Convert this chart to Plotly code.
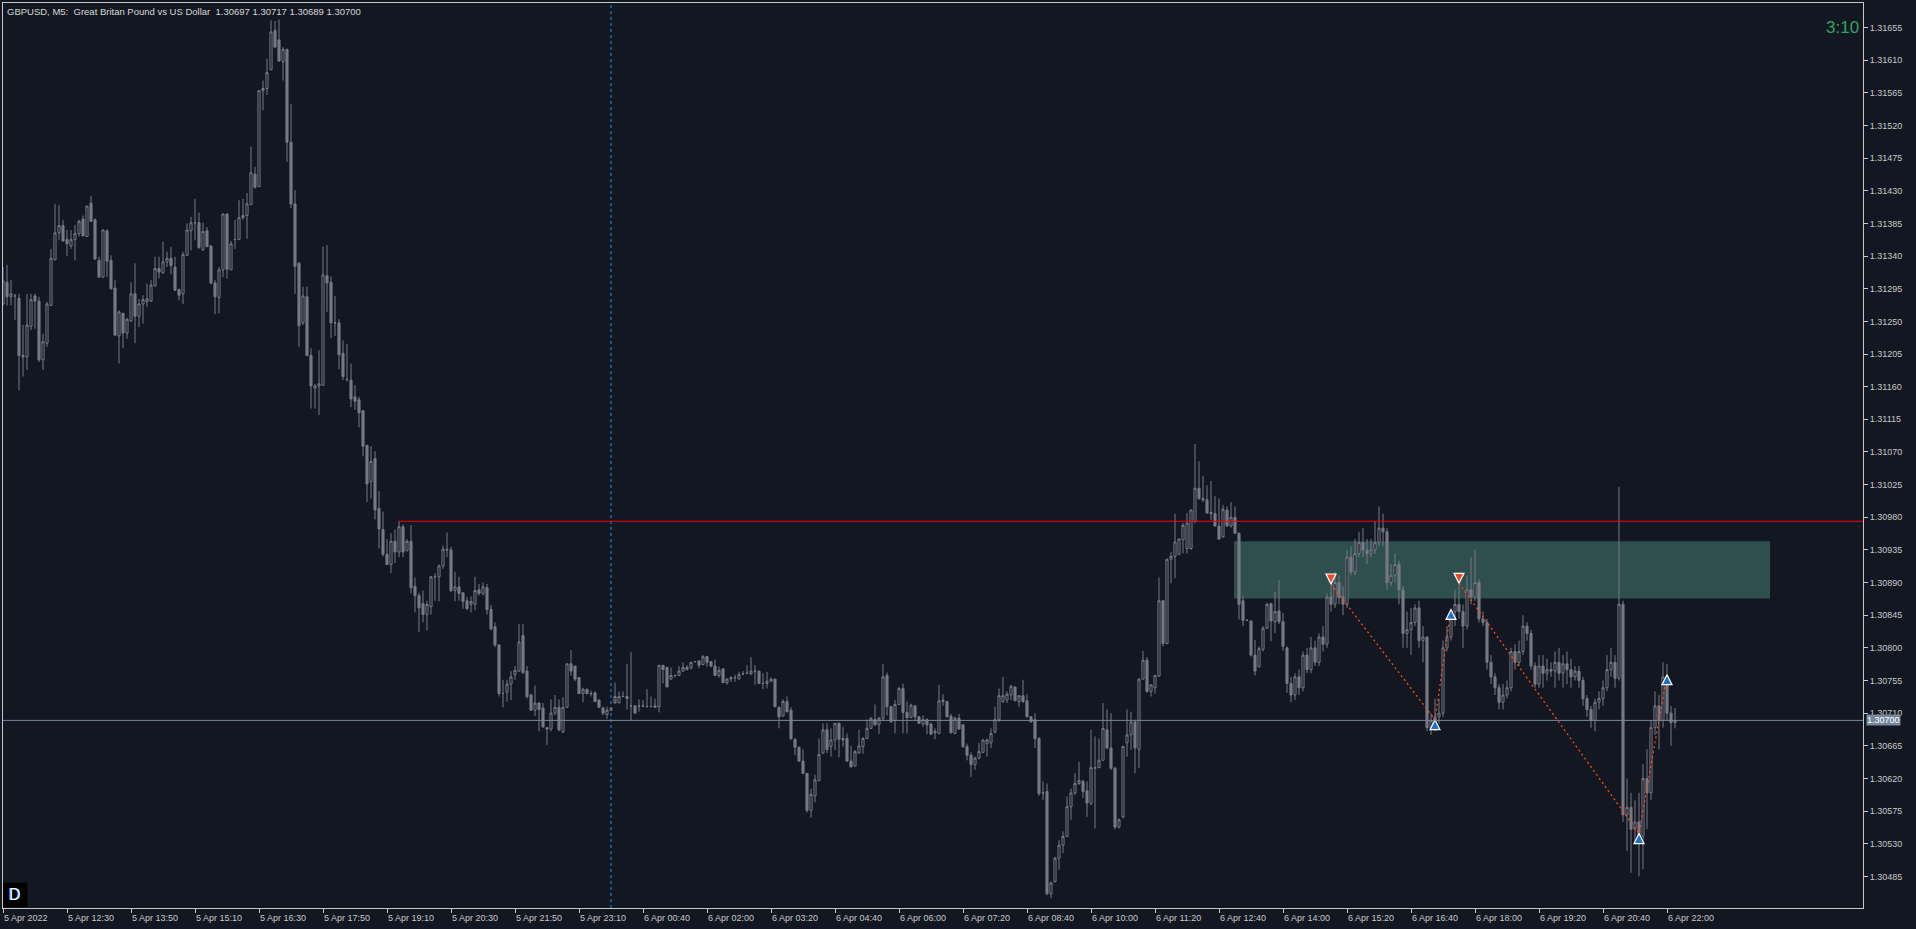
import plotly.graph_objects as go

# ---------------- data (prices in points, 1 point = 0.00001) ----------------
open_pts = [
131274,131304,131284,131285,131282,131203,131201,131243,131285,131278,
131197,131220,131272,131335,131372,131382,131363,131354,131363,131371,
131391,131367,131413,131390,131334,131311,131375,131334,131296,131230,
131261,131234,131251,131288,131257,131274,131277,131278,131299,131323,
131317,131332,131337,131325,131294,131288,131341,131375,131386,131386,
131349,131375,131354,131303,131283,131321,131398,131321,131363,131363,
131396,131396,131411,131453,131436,131568,131571,131597,131651,131638,
131608,131625,131497,131412,131330,131248,131284,131203,131158,131161,
131162,131313,131304,131248,131248,131206,131170,131169,131146,131142,
131127,131079,131029,131061,130992,130963,130929,130915,130947,130932,
130967,130934,130947,130885,130872,130861,130846,130857,130898,130898,
130913,130936,130935,130879,130884,130876,130865,130860,130860,130880,
130875,130883,130853,130829,130804,130737,130739,130750,130763,130768,
130817,130768,130735,130714,130724,130717,130690,130688,130710,130718,
130684,130718,130778,130775,130759,130737,130743,130737,130738,130728,
130717,130708,130714,130724,130724,130733,130733,130720,130720,130720,
130720,130719,130719,130720,130719,130776,130773,130757,130762,130762,
130768,130770,130772,130781,130782,130777,130788,130781,130775,130762,
130771,130752,130757,130759,130757,130764,130765,130764,130768,130768,
130751,130751,130754,130757,130718,130706,130726,130714,130674,130663,
130644,130627,130576,130596,130617,130655,130687,130664,130673,130696,
130675,130675,130644,130637,130655,130664,130675,130689,130701,130694,
130703,130762,130719,130700,130722,130744,130711,130704,130720,130705,
130695,130701,130695,130683,130682,130728,130726,130706,130682,130703,
130694,130664,130652,130639,130648,130656,130668,130669,130684,130701,
130726,130728,130735,130746,130726,130734,130727,130705,130701,130675,
130600,130602,130461,130478,130510,130528,130540,130581,130600,130613,
130616,130603,130586,130634,130635,130645,130687,130662,130634,130553,
130567,130669,130680,130698,130660,130757,130783,130740,130745,130761,
130865,130806,130922,130926,130929,130949,130937,130937,130974,131020,
131006,131004,130987,130985,130968,130953,130990,130968,130980,130958,
130865,130838,130837,130790,130774,130798,130827,130861,130836,130851,
130836,130800,130751,130735,130760,130745,130790,130770,130800,130780,
130815,130805,130870,130860,130890,130870,130860,130925,130905,130930,
130945,130935,130930,130935,130945,130965,130960,130890,130900,130915,
130880,130820,130825,130835,130855,130810,130815,130690,130700,130705,
130710,130800,130815,130850,130860,130850,130830,130880,130870,130890,
130840,130835,130780,130760,130745,130725,130735,130745,130795,130780,
130795,130830,130820,130775,130750,130775,130765,130770,130768,130780,
130765,130778,130770,130760,130768,130755,130730,130715,130700,130725,
130730,130745,130770,130780,130758,130860,130570,130580,130550,130560,
130540,130620,130600,130690,130720,130700,130760,130710,130697]
high_pts = [
131325,131328,131307,131288,131288,131245,131288,131288,131288,131284,
131233,131277,131350,131412,131410,131390,131376,131376,131383,131390,
131396,131409,131423,131392,131339,131377,131377,131341,131307,131265,
131262,131255,131304,131330,131281,131286,131302,131307,131339,131339,
131360,131346,131353,131339,131295,131346,131385,131394,131419,131400,
131386,131380,131355,131307,131325,131399,131399,131361,131390,131417,
131419,131427,131491,131463,131569,131582,131612,131665,131664,131666,
131628,131626,131550,131431,131332,131298,131298,131213,131164,131210,
131353,131355,131312,131285,131253,131224,131219,131192,131162,131146,
131127,131080,131078,131071,131016,130988,130950,130958,130963,130975,
130970,130950,130969,130897,130876,130879,130865,130899,130903,130915,
130941,130959,130939,130905,130898,130876,130870,130871,130898,130888,
130890,130888,130859,130835,130805,130756,130756,130768,130775,130833,
130833,130775,130737,130748,130725,130724,130691,130729,130735,130729,
130732,130778,130797,130775,130759,130745,130743,130741,130740,130729,
130719,130719,130718,130752,130740,130740,130778,130794,130721,130729,
130728,130743,130733,130730,130776,130776,130774,130773,130763,130775,
130780,130776,130781,130782,130782,130790,130789,130782,130784,130774,
130772,130758,130761,130763,130767,130768,130776,130787,130776,130768,
130765,130767,130759,130757,130719,130729,130733,130718,130675,130664,
130660,130627,130606,130625,130675,130696,130696,130689,130696,130697,
130691,130682,130665,130659,130687,130677,130701,130704,130722,130705,
130778,130766,130720,130728,130746,130751,130726,130723,130721,130706,
130707,130703,130697,130689,130749,130736,130727,130709,130705,130709,
130694,130668,130656,130650,130669,130674,130675,130689,130719,130744,
130760,130740,130749,130747,130735,130756,130736,130706,130710,130677,
130616,130613,130478,130512,130535,130547,130595,130606,130627,130643,
130618,130616,130687,130678,130675,130724,130715,130710,130636,130565,
130665,130715,130712,130701,130758,130796,130787,130750,130762,130897,
130866,130923,130932,130985,130951,130972,130986,130991,131081,131057,
131037,131024,131030,131009,131006,130997,130995,131001,130995,130959,
130871,130839,130838,130811,130802,130830,130862,130862,130877,130893,
130848,130802,130760,130765,130770,130795,130800,130815,130810,130820,
130830,130875,130888,130905,130900,130885,130935,130940,130950,130960,
130965,130950,130950,130975,130995,130985,130965,130915,130930,130920,
130885,130850,130855,130860,130865,130830,130815,130710,130730,130730,
130810,130830,130855,130880,130888,130860,130900,130925,130935,130895,
130850,130840,130790,130765,130750,130750,130755,130800,130805,130810,
130845,130835,130825,130780,130790,130790,130785,130780,130795,130800,
130790,130795,130785,130775,130775,130760,130735,130720,130730,130740,
130755,130790,130800,130790,131022,130865,130620,130600,130590,130600,
130640,130660,130700,130740,130735,130780,130778,130720,130717]
low_pts = [
131272,131272,131272,131252,131155,131174,131183,131238,131240,131194,
131183,131215,131271,131334,131362,131360,131340,131350,131334,131367,
131367,131367,131387,131335,131310,131310,131311,131294,131231,131192,
131213,131226,131249,131220,131242,131247,131270,131277,131298,131309,
131316,131325,131315,131292,131279,131274,131341,131348,131362,131350,
131347,131353,131301,131260,131261,131311,131309,131321,131350,131362,
131390,131364,131411,131433,131435,131541,131562,131596,131628,131608,
131582,131470,131406,131288,131215,131245,131202,131130,131130,131121,
131161,131263,131227,131230,131184,131169,131167,131132,131128,131104,
131064,131001,131006,130977,130937,130926,130914,130903,130917,130925,
130925,130933,130875,130849,130822,130835,130824,130846,130865,130864,
130909,130925,130877,130864,130865,130854,130852,130849,130852,130872,
130872,130846,130824,130801,130733,130718,130726,130728,130756,130767,
130764,130730,130713,130706,130685,130690,130666,130685,130707,130685,
130683,130717,130762,130754,130736,130725,130736,130733,130726,130717,
130707,130702,130713,130729,130724,130732,130715,130699,130710,130712,
130718,130718,130718,130718,130711,130751,130746,130756,130759,130761,
130767,130769,130771,130780,130772,130776,130774,130773,130761,130759,
130752,130749,130753,130753,130757,130763,130764,130763,130749,130750,
130743,130744,130753,130718,130689,130705,130711,130673,130652,130643,
130626,130573,130566,130587,130616,130654,130655,130650,130659,130649,
130664,130643,130635,130637,130654,130654,130674,130688,130692,130681,
130700,130707,130697,130682,130721,130682,130682,130703,130700,130695,
130691,130681,130680,130674,130681,130720,130704,130682,130681,130687,
130662,130645,130622,130632,130646,130655,130650,130662,130682,130698,
130724,130724,130728,130727,130719,130724,130704,130697,130662,130596,
130590,130459,130455,130476,130494,130517,130540,130563,130597,130611,
130593,130567,130583,130551,130634,130645,130660,130632,130550,130551,
130565,130650,130659,130627,130634,130756,130738,130733,130737,130760,
130802,130805,130889,130896,130928,130930,130930,130935,130972,131004,
131001,130985,130976,130967,130949,130952,130967,130966,130957,130839,
130830,130837,130788,130762,130773,130795,130826,130809,130820,130833,
130796,130738,130725,130728,130735,130740,130765,130765,130775,130775,
130795,130800,130850,130855,130860,130845,130855,130900,130900,130925,
130925,130915,130925,130930,130940,130940,130880,130885,130890,130860,
130800,130800,130790,130830,130800,130780,130685,130680,130685,130695,
130705,130795,130810,130830,130840,130800,130825,130860,130865,130835,
130830,130770,130750,130735,130715,130715,130730,130740,130770,130775,
130790,130810,130770,130745,130745,130745,130755,130760,130745,130755,
130745,130750,130745,130755,130745,130720,130705,130690,130685,130715,
130720,130740,130760,130745,130755,130560,130520,130490,130530,130485,
130495,130550,130590,130680,130660,130690,130700,130665,130689]
close_pts = [
131306,131284,131288,131285,131203,131201,131245,131280,131278,131197,
131222,131274,131337,131372,131382,131361,131357,131363,131371,131388,
131368,131409,131388,131336,131311,131376,131333,131295,131231,131263,
131234,131253,131288,131257,131274,131280,131281,131300,131323,131318,
131332,131337,131327,131293,131286,131342,131376,131386,131386,131352,
131374,131353,131303,131284,131321,131398,131322,131357,131363,131393,
131393,131412,131455,131435,131568,131571,131593,131649,131628,131609,
131625,131497,131412,131326,131244,131285,131203,131161,131161,131164,
131314,131303,131248,131248,131204,131174,131170,131143,131140,131124,
131078,131026,131057,130990,130964,130929,130915,130947,130932,130967,
130932,130947,130883,130872,130855,130846,130860,130898,130898,130913,
130936,130935,130879,130884,130875,130864,130854,130864,130879,130875,
130884,130853,130826,130804,130737,130737,130750,130760,130769,130808,
130766,130733,130714,130724,130715,130691,130688,130710,130718,130687,
130718,130778,130768,130757,130737,130743,130737,130737,130726,130718,
130710,130714,130717,130733,130733,130733,130730,130720,130710,130720,
130720,130719,130719,130718,130776,130770,130746,130762,130762,130768,
130773,130773,130780,130781,130776,130788,130780,130775,130762,130769,
130752,130757,130759,130759,130763,130764,130765,130768,130768,130751,
130751,130754,130757,130719,130705,130726,130712,130675,130663,130644,
130627,130576,130598,130618,130653,130687,130660,130673,130696,130674,
130673,130644,130636,130657,130665,130675,130689,130703,130694,130703,
130760,130719,130698,130722,130744,130711,130704,130721,130705,130696,
130701,130694,130681,130685,130727,130726,130705,130683,130703,130688,
130664,130652,130639,130648,130657,130673,130673,130682,130701,130734,
130734,130736,130747,130727,130734,130726,130705,130698,130675,130599,
130600,130461,130476,130510,130528,130540,130581,130600,130613,130617,
130602,130586,130635,130635,130645,130689,130662,130634,130553,130563,
130664,130680,130698,130662,130757,130783,130740,130749,130762,130865,
130806,130922,130926,130946,130950,130969,130972,130990,131020,131006,
131004,130986,130985,130968,130950,130991,130968,130980,130958,130860,
130838,130838,130790,130768,130799,130827,130860,130837,130850,130836,
130802,130751,130735,130760,130745,130790,130770,130800,130780,130815,
130805,130870,130860,130890,130870,130860,130925,130905,130930,130945,
130935,130930,130935,130945,130965,130960,130890,130900,130915,130880,
130820,130825,130835,130855,130810,130815,130690,130700,130705,130710,
130800,130815,130850,130860,130850,130830,130880,130870,130890,130840,
130835,130780,130760,130745,130725,130735,130745,130795,130780,130795,
130830,130820,130775,130750,130775,130765,130770,130768,130780,130765,
130778,130770,130760,130768,130755,130730,130715,130700,130725,130730,
130745,130770,130780,130758,130860,130570,130580,130550,130560,130540,
130620,130600,130690,130720,130700,130760,130710,130697,130700]

time_labels = ["5 Apr 2022", "5 Apr 12:30", "5 Apr 13:50", "5 Apr 15:10", "5 Apr 16:30",
               "5 Apr 17:50", "5 Apr 19:10", "5 Apr 20:30", "5 Apr 21:50", "5 Apr 23:10",
               "6 Apr 00:40", "6 Apr 02:00", "6 Apr 03:20", "6 Apr 04:40", "6 Apr 06:00",
               "6 Apr 07:20", "6 Apr 08:40", "6 Apr 10:00", "6 Apr 11:20", "6 Apr 12:40",
               "6 Apr 14:00", "6 Apr 15:20", "6 Apr 16:40", "6 Apr 18:00", "6 Apr 19:20",
               "6 Apr 20:40", "6 Apr 22:00"]
time_tick_bars = [0, 16, 32, 48, 64, 80, 96, 112, 128, 144, 160, 176, 192, 208, 224,
                  240, 256, 272, 288, 304, 320, 336, 352, 368, 384, 400, 416]
price_ticks = [1.30485, 1.30530, 1.30575, 1.30620, 1.30665, 1.30710, 1.30755, 1.30800,
               1.30845, 1.30890, 1.30935, 1.30980, 1.31025, 1.31070, 1.31115, 1.31160,
               1.31205, 1.31250, 1.31295, 1.31340, 1.31385, 1.31430, 1.31475, 1.31520,
               1.31565, 1.31610, 1.31655]

last_price = 1.30700
resistance_level = 1.309745
resistance_start_bar = 99
zone_start_bar, zone_end_bar = 307.75, 441.75
zone_low, zone_high = 1.30868, 1.30947
day_separator_bar = 152

zigzag_bars = [332, 358, 362, None, 364, 409, 416]
zigzag_prices = [1.30888, 1.30701, 1.30853, None, 1.30889, 1.30544, 1.30763]
sell_bars, sell_prices = [332, 364], [1.30888, 1.30889]
buy_bars, buy_prices = [358, 362, 409, 416], [1.30701, 1.30853, 1.30544, 1.30763]

title_text = "GBPUSD, M5:\u00a0 Great Britan Pound vs US Dollar\u00a0 1.30697 1.30717 1.30689 1.30700"
timer_text = "3:10"

# ---------------- figure ----------------
BG = "#131722"
FG = "#c8c8c8"
CANDLE = "#777a85"
FONT = "Liberation Sans"

n = len(close_pts)
bars = list(range(n))
to_price = lambda arr: [v / 100000 for v in arr]

fig = go.Figure()

fig.add_trace(go.Candlestick(
    x=bars, open=to_price(open_pts), high=to_price(high_pts),
    low=to_price(low_pts), close=to_price(close_pts),
    increasing=dict(line=dict(color=CANDLE, width=1), fillcolor=BG),
    decreasing=dict(line=dict(color=CANDLE, width=1), fillcolor=CANDLE),
    whiskerwidth=0, hoverinfo="skip", showlegend=False,
))

fig.add_trace(go.Scatter(
    x=zigzag_bars, y=zigzag_prices, mode="lines",
    line=dict(color="#ff4a1c", width=1.3, dash="2px,3px"),
    connectgaps=False, hoverinfo="skip", showlegend=False,
))
fig.add_trace(go.Scatter(
    x=sell_bars, y=sell_prices, mode="markers",
    marker=dict(symbol="arrow-down", size=10, color="#ee4a20",
                line=dict(color="white", width=1.2)),
    hoverinfo="skip", showlegend=False,
))
fig.add_trace(go.Scatter(
    x=buy_bars, y=buy_prices, mode="markers",
    marker=dict(symbol="arrow-up", size=10, color="#1f6fcf",
                line=dict(color="white", width=1.2)),
    hoverinfo="skip", showlegend=False,
))

shapes = [
    dict(type="rect", xref="x", yref="y", x0=zone_start_bar, x1=zone_end_bar,
         y0=zone_low, y1=zone_high, fillcolor="#2f4f4f", line=dict(width=0), layer="below"),
    dict(type="line", xref="x", yref="y", x0=resistance_start_bar, x1=465,
         y0=resistance_level, y1=resistance_level, line=dict(color="#ff0000", width=1)),
    dict(type="line", xref="paper", yref="y", x0=0, x1=1,
         y0=last_price, y1=last_price, line=dict(color="#778899", width=1)),
    dict(type="line", xref="x", yref="paper", x0=day_separator_bar, x1=day_separator_bar,
         y0=0, y1=1, line=dict(color="#1e90ff", width=1, dash="3px,3px"), layer="below"),
    dict(type="rect", xref="paper", yref="paper", x0=0, x1=0.0131, y0=0.001, y1=0.028,
         fillcolor="#000000", line=dict(width=0)),
]

annotations = []
for b, lab in zip(time_tick_bars, time_labels):
    annotations.append(dict(x=b, y=0, xref="x", yref="paper", text=lab, showarrow=False,
                            xanchor="left", yanchor="top", yshift=-3, xshift=-1,
                            font=dict(family=FONT, size=9, color=FG)))
annotations += [
    dict(x=0, y=1, xref="paper", yref="paper", text=title_text, showarrow=False,
         xanchor="left", yanchor="top", xshift=2, yshift=-1,
         font=dict(family=FONT, size=9.5, color="#d8d8d8")),
    dict(x=1, y=1.31655, xref="paper", yref="y", text=timer_text, showarrow=False,
         xanchor="right", yanchor="middle", xshift=-2,
         font=dict(family=FONT, size=17, color="#2fa562")),
    dict(x=1, y=last_price, xref="paper", yref="y", text="1.30700", showarrow=False,
         xanchor="left", yanchor="middle", xshift=3, bgcolor="#778899",
         borderpad=0, font=dict(family=FONT, size=9, color="#ffffff")),
    dict(x=0.0066, y=0.0145, xref="paper", yref="paper", text="D", showarrow=False,
         xanchor="center", yanchor="middle", xshift=-1,
         font=dict(family=FONT, size=16, color="#1e90ff")),
    dict(x=0.0066, y=0.0145, xref="paper", yref="paper", text="D", showarrow=False,
         xanchor="center", yanchor="middle",
         font=dict(family=FONT, size=16, color="#ffffff")),
]

fig.update_layout(
    width=1916, height=929,
    margin=dict(l=3, r=53, t=3, b=21),
    paper_bgcolor=BG, plot_bgcolor=BG,
    boxgap=0.25,
    showlegend=False,
    shapes=shapes, annotations=annotations,
    xaxis=dict(range=[0, 465], showgrid=False, zeroline=False, showticklabels=False,
               tickvals=time_tick_bars, ticks="outside", ticklen=4, tickcolor=FG,
               showline=True, linecolor=FG, linewidth=1, mirror=True,
               rangeslider=dict(visible=False), fixedrange=True),
    yaxis=dict(range=[1.304414, 1.316889], side="right", showgrid=False, zeroline=False,
               tickvals=price_ticks, ticktext=[f"{v:.5f}" for v in price_ticks],
               ticks="outside", ticklen=4, tickcolor=FG,
               tickfont=dict(family=FONT, size=9, color=FG),
               showline=True, linecolor=FG, linewidth=1, mirror=True, fixedrange=True),
)

fig.write_html(
    "out.html",
    config=dict(displayModeBar=False),
    post_script="document.body.style.margin='0';document.body.style.overflow='hidden';"
                "document.body.style.background='" + BG + "';",
)
